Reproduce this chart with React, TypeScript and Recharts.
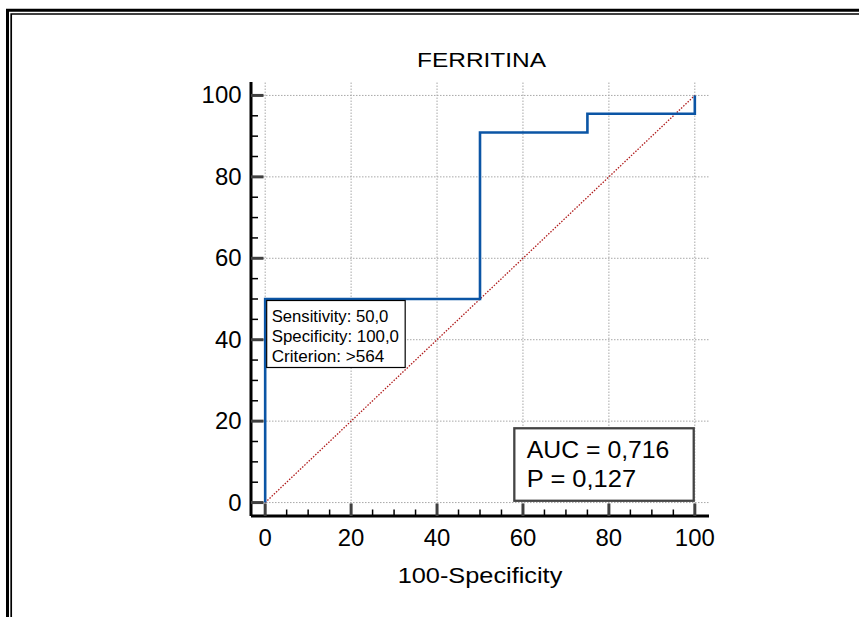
import { LineChart, Line, XAxis, YAxis, ReferenceLine, ReferenceDot, Customized } from 'recharts'

const fprValues = [0, 0, 50, 50, 75, 75, 100, 100]
const sensValues = [0, 50, 50, 90.9, 90.9, 95.5, 95.5, 100]
const majorTicks = [0, 20, 40, 60, 80, 100]
const minorTicks = [5, 10, 15, 25, 30, 35, 45, 50, 55, 65, 70, 75, 85, 90, 95]
const chanceLine = [{ x: 0, y: 0 }, { x: 100, y: 100 }]
const criterionPoint = { x: 0, y: 50 }
const criterionLines = ['Sensitivity: 50,0', 'Specificity: 100,0', 'Criterion: >564']
const statsPoint = { x: 100, y: 0 }
const statsLines = ['AUC = 0,716', 'P = 0,127']
const chartTitle = 'FERRITINA'
const xLabel = '100-Specificity'

const rocData = fprValues.map((x, i) => ({ x, y: sensValues[i] }))
const allTicks = [...majorTicks, ...minorTicks].sort((a, b) => a - b)

const FONT = '"Liberation Sans", Arial, Helvetica, sans-serif'
const DOMAIN: [number, number] = [-3.3, 103.3]

function XTick(props: any) {
  const { x, y, payload } = props
  const v = payload.value
  const major = majorTicks.includes(v)
  const s = String(v)
  return (
    <g>
      <line x1={x} x2={x} y1={y} y2={y - (major ? 12.5 : 6.5)}
        stroke={major ? '#404040' : '#000'} strokeWidth={major ? 3 : 1.5} />
      {major && (
        <text x={x} y={y + 29.7} textAnchor="middle" fontSize={23} fill="#000" fontFamily={FONT}
          textLength={s.length * 13.3} lengthAdjust="spacingAndGlyphs">{s}</text>
      )}
    </g>
  )
}

function YTick(props: any) {
  const { x, y, payload } = props
  const v = payload.value
  const major = majorTicks.includes(v)
  const s = String(v)
  return (
    <g>
      <line x1={x} x2={x + (major ? 12.5 : 7)} y1={y} y2={y}
        stroke={major ? '#404040' : '#000'} strokeWidth={major ? 3 : 1.5} />
      {major && (
        <text x={x - 9.5} y={y + 8} textAnchor="end" fontSize={23} fill="#000" fontFamily={FONT}
          textLength={s.length * 13.3} lengthAdjust="spacingAndGlyphs">{s}</text>
      )}
    </g>
  )
}

function CriterionBox(props: any) {
  const { cx, cy } = props
  const widths = [116.7, 127.3, 112.7]
  return (
    <g>
      <rect x={cx + 1.5} y={cy + 1.5} width={138.5} height={67} fill="#fff" stroke="#000" strokeWidth={1.2} />
      {criterionLines.map((t, i) => (
        <text key={t} x={cx + 6.5} y={cy + 23.2 + i * 20} fontSize={16.5} fill="#000" fontFamily={FONT}
          textLength={widths[i]} lengthAdjust="spacingAndGlyphs">{t}</text>
      ))}
    </g>
  )
}

function StatsBox(props: any) {
  const { cx, cy } = props
  const widths = [142.6, 109.3]
  return (
    <g>
      <rect x={cx - 180.5} y={cy - 74.3} width={179.4} height={72.5} fill="#fff" stroke="#444" strokeWidth={2.3} />
      {statsLines.map((t, i) => (
        <text key={t} x={cx - 168} y={cy - 45 + i * 29.3} fontSize={23.5} fill="#000" fontFamily={FONT}
          textLength={widths[i]} lengthAdjust="spacingAndGlyphs">{t}</text>
      ))}
    </g>
  )
}

function Decor() {
  return (
    <g>
      <path d="M7.5 640 V10.3 H900" fill="none" stroke="#000" strokeWidth={3} />
      <path d="M11.2 640 V14 H900" fill="none" stroke="#000" strokeWidth={1.7} />
      <text x={481.5} y={67.3} textAnchor="middle" fontSize={20.5} fill="#000" fontFamily={FONT}
        textLength={129} lengthAdjust="spacingAndGlyphs">{chartTitle}</text>
    </g>
  )
}

function XLabel(props: any) {
  const vb = props.viewBox
  return (
    <text x={vb.x + vb.width / 2} y={vb.y + 67.3} textAnchor="middle" fontSize={21.5} fill="#000" fontFamily={FONT}
      textLength={164.7} lengthAdjust="spacingAndGlyphs">{xLabel}</text>
  )
}

export default function App() {
  return (
    <div style={{ position: 'absolute', left: 0, top: 0, width: 859, height: 617, background: '#fff', fontFamily: FONT }}>
      <LineChart width={859} height={617} data={rocData}
        margin={{ top: 82, right: 150, bottom: 41, left: 191 }}>
        <Customized component={Decor} />
        {majorTicks.map((v) => (
          <ReferenceLine key={'gx' + v} x={v} stroke="#a8a8a8" strokeWidth={1} strokeDasharray="1.5 1.5" />
        ))}
        {majorTicks.map((v) => (
          <ReferenceLine key={'gy' + v} y={v} stroke="#a8a8a8" strokeWidth={1} strokeDasharray="1.5 1.5" />
        ))}
        <XAxis dataKey="x" type="number" domain={DOMAIN} ticks={allTicks} interval={0}
          allowDataOverflow height={60} tickSize={0} tickMargin={0} tickLine={false}
          axisLine={{ stroke: '#000', strokeWidth: 3 }} tick={<XTick />}
          label={{ content: XLabel }} />
        <YAxis type="number" domain={DOMAIN} ticks={allTicks} interval={0}
          allowDataOverflow width={60} tickSize={0} tickMargin={0} tickLine={false}
          axisLine={{ stroke: '#000', strokeWidth: 3 }} tick={<YTick />} />
        <ReferenceLine segment={chanceLine} stroke="#b01c1c" strokeWidth={1.3} strokeDasharray="1.5 1.5" />
        <Line dataKey="y" type="linear" stroke="#0b55a5" strokeWidth={2.6} dot={false}
          isAnimationActive={false} strokeLinejoin="miter" strokeLinecap="butt" />
        <ReferenceDot x={criterionPoint.x} y={criterionPoint.y} shape={<CriterionBox />} />
        <ReferenceDot x={statsPoint.x} y={statsPoint.y} shape={<StatsBox />} />
      </LineChart>
    </div>
  )
}
